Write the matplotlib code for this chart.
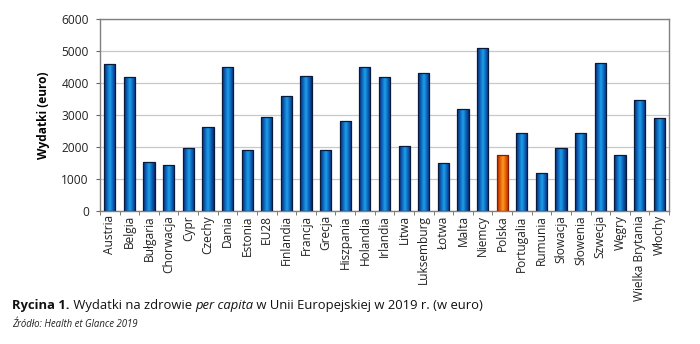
import numpy as np
import matplotlib.pyplot as plt
from matplotlib.colors import LinearSegmentedColormap

countries = ["Austria", "Belgia", "Bułgaria", "Chorwacja", "Cypr", "Czechy", "Dania",
             "Estonia", "EU28", "Finlandia", "Francja", "Grecja", "Hiszpania", "Holandia",
             "Irlandia", "Litwa", "Luksemburg", "Łotwa", "Malta", "Niemcy", "Polska",
             "Portugalia", "Rumunia", "Słowacja", "Słowenia", "Szwecja", "Węgry",
             "Wielka Brytania", "Włochy"]
spending = [4580, 4200, 1530, 1450, 1960, 2610, 4500, 1920, 2950, 3590, 4220, 1920, 2820,
            4490, 4180, 2040, 4320, 1500, 3180, 5090, 1750, 2440, 1200, 1970, 2440, 4635,
            1750, 3470, 2900]
highlight = "Polska"
yticks = [0, 1000, 2000, 3000, 4000, 5000, 6000]

plt.rcParams["font.family"] = ["Open Sans", "DejaVu Sans"]

fig = plt.figure(figsize=(7, 3.44), dpi=100)
ax = fig.add_axes([100 / 700, 1 - 211 / 344, 569 / 700, 192 / 344])

x = np.arange(len(countries))
bars = ax.bar(x, spending, width=0.57, color="none", edgecolor="#0a1a3a", linewidth=0.9, zorder=3)

# cylinder-like shading across each bar
blue = LinearSegmentedColormap.from_list("blue", ["#0a2a6e", "#0b62bb", "#1ea0e6", "#0b62bb", "#0a2a6e"])
orange = LinearSegmentedColormap.from_list("orange", ["#b02a00", "#e05a08", "#ff9a20", "#e05a08", "#b02a00"])
grad = np.linspace(0, 1, 64).reshape(1, -1)
for name, b in zip(countries, bars):
    cmap = orange if name == highlight else blue
    if name == highlight:
        b.set_edgecolor("#8a1a00")
    im = ax.imshow(grad, cmap=cmap, aspect="auto", zorder=2,
                   extent=[b.get_x(), b.get_x() + b.get_width(), 0, b.get_height()])
    im.set_clip_path(b)

ax.set_xlim(-0.5, len(countries) - 0.5)
ax.set_ylim(0, 6000)
ax.set_yticks(yticks)
ax.set_yticklabels([str(t) for t in yticks], fontsize=8.6, color="#222222")
ax.set_xticks(x)
ax.set_xticklabels(countries, rotation=90, fontsize=8.6, color="#222222")
ax.tick_params(axis="x", length=0, pad=3)
ax.set_xticks(np.arange(-0.5, len(countries), 1), minor=True)
ax.tick_params(axis="x", which="minor", length=3, color="#666666", direction="out")
ax.tick_params(axis="y", length=3, color="#666666", pad=5)
ax.grid(axis="y", color="#c8c8c8", linewidth=0.9, zorder=0)
for s in ax.spines.values():
    s.set_color("#808080")
    s.set_linewidth(1.0)
ax.set_ylabel("Wydatki (euro)", fontsize=8.6, fontweight="bold", labelpad=8)

# caption assembled from differently styled pieces
fig.canvas.draw()
r = fig.canvas.get_renderer()
pieces = [("Rycina 1.", "bold", "normal"), (" Wydatki na zdrowie ", "normal", "normal"),
          ("per capita", "normal", "italic"),
          (" w Unii Europejskiej w 2019 r. (w euro)", "normal", "normal")]
px = 12
for txt, weight, style in pieces:
    t = fig.text(px / 700, 1 - 309 / 344, txt, fontsize=9.4, fontweight=weight, fontstyle=style,
                 color="#111111")
    px = t.get_window_extent(r).x1
fig.text(12 / 700, 1 - 327 / 344, "Źródło: Health et Glance 2019", fontsize=6.9, fontstyle="italic",
         color="#222222")

fig.savefig("out.png", dpi=100)
